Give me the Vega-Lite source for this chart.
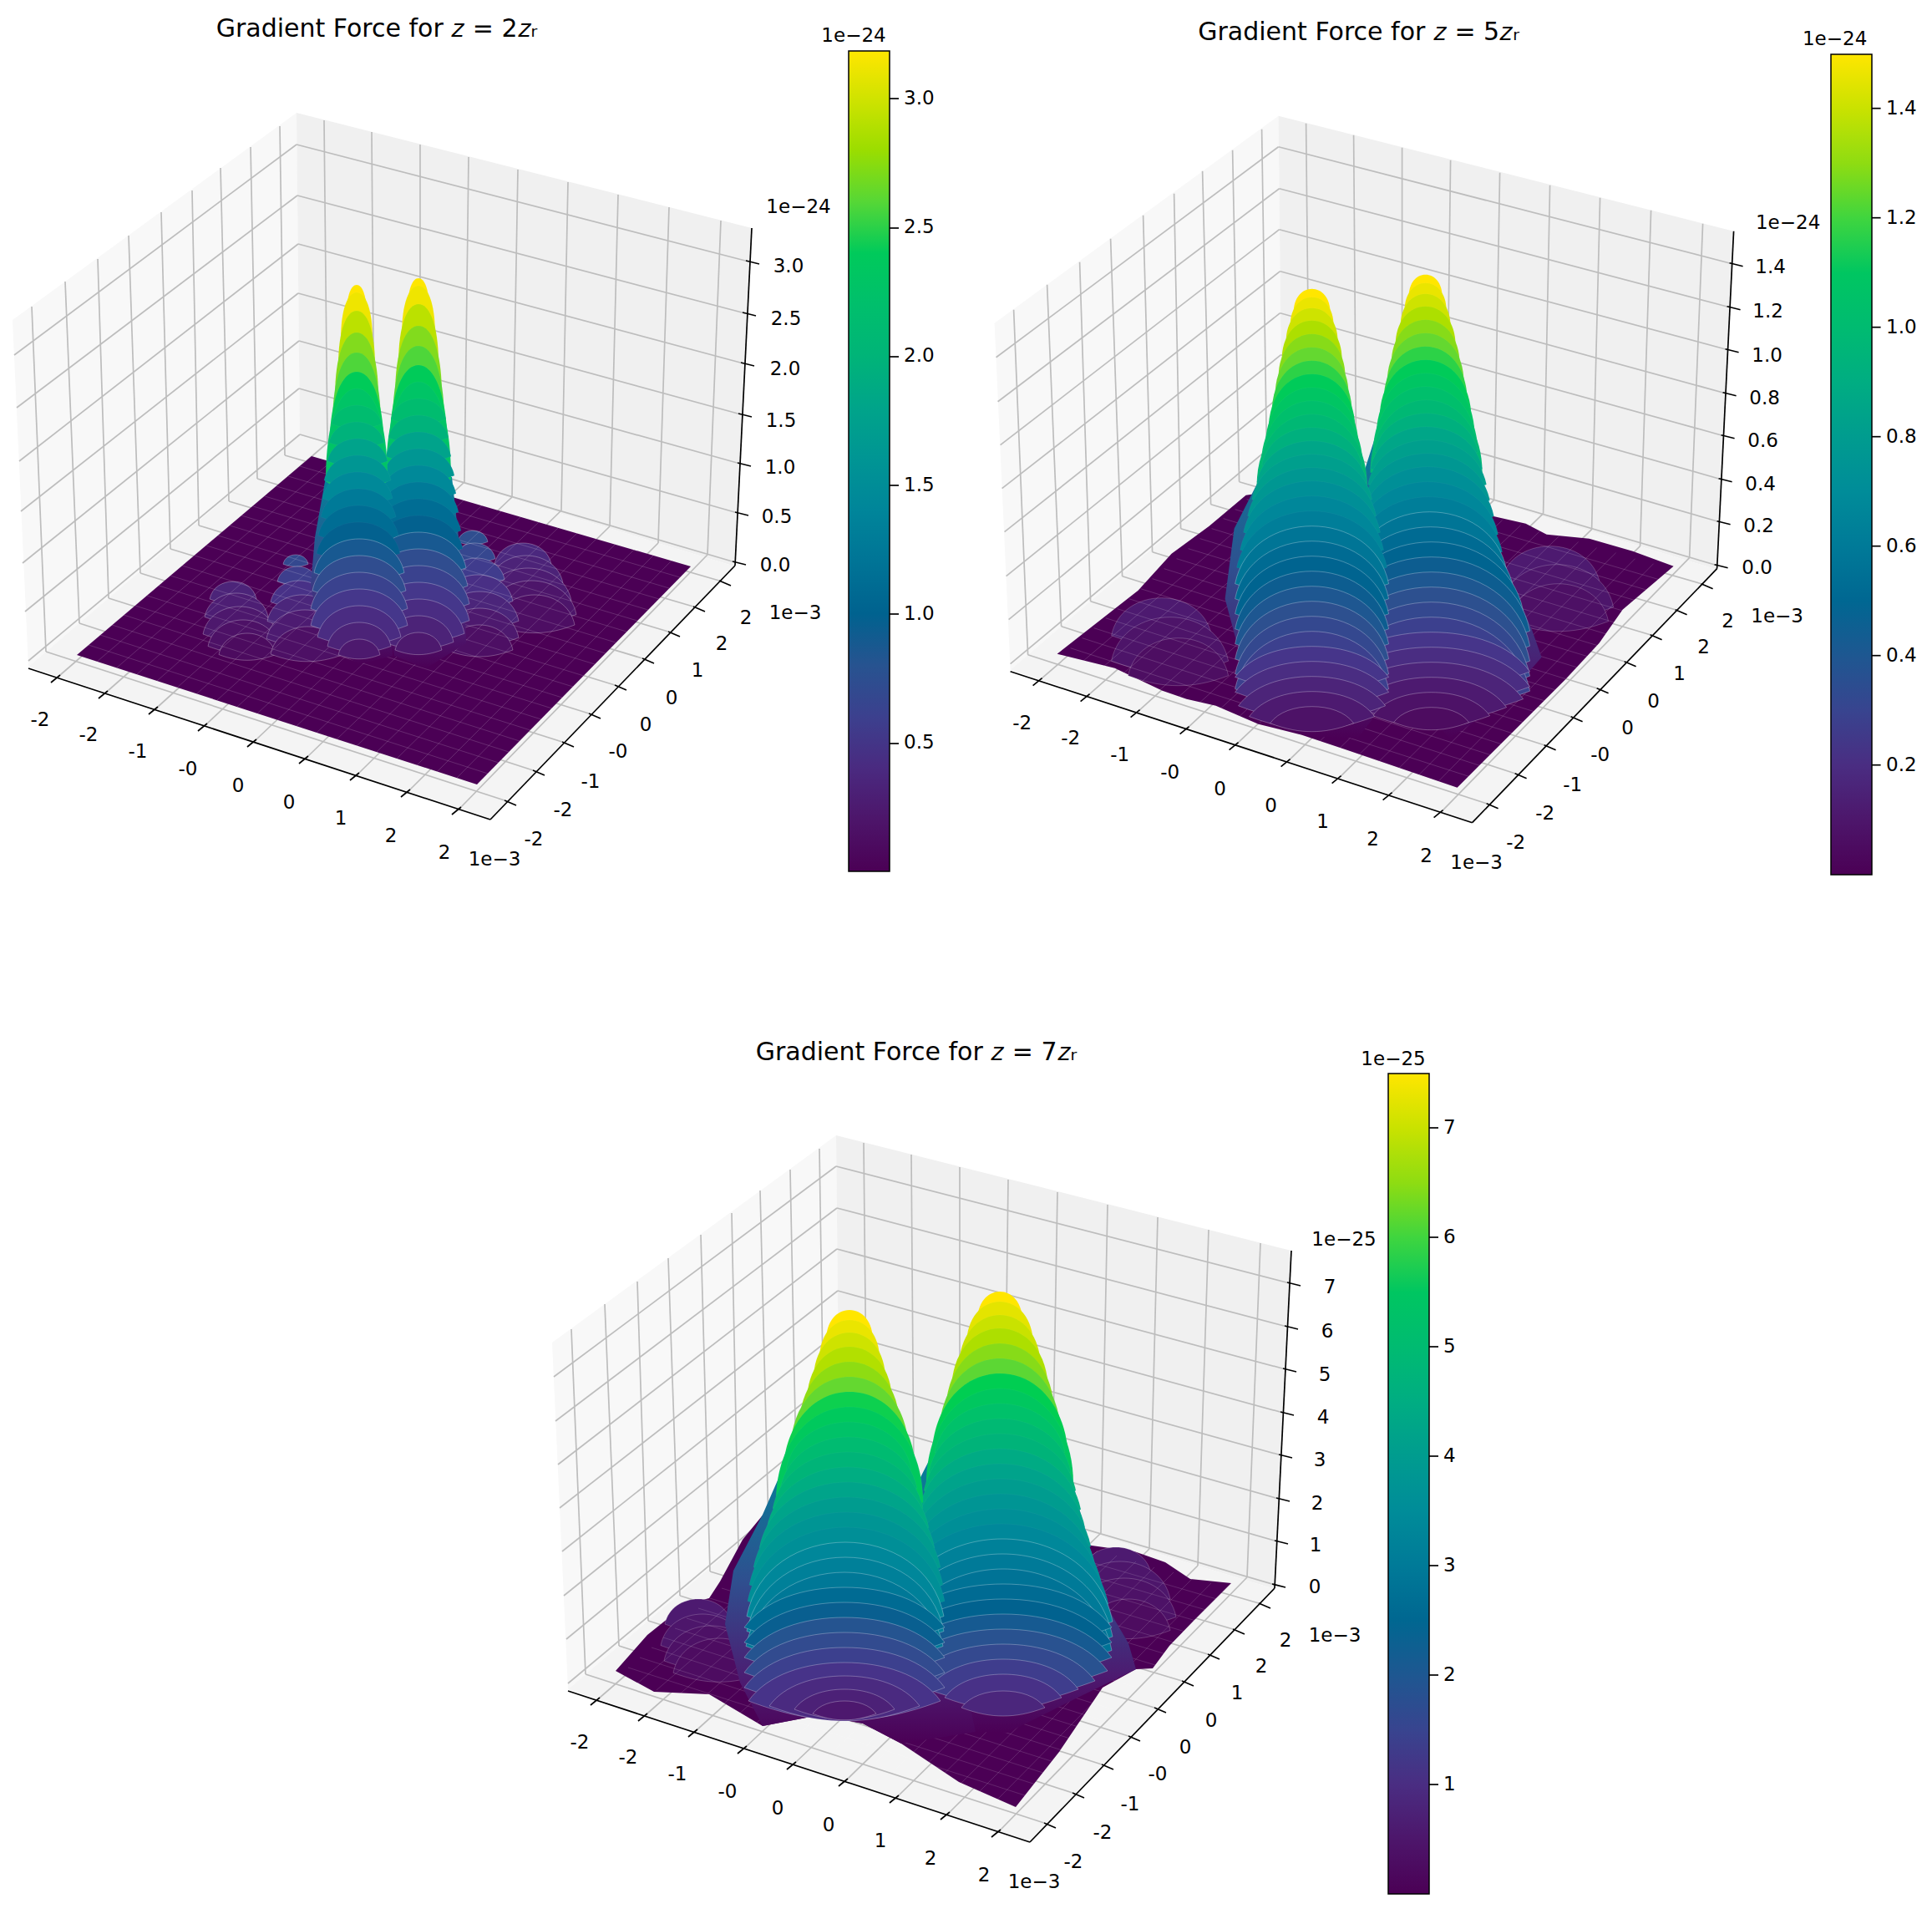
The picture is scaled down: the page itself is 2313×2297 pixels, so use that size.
{"$schema":"https://vega.github.io/schema/vega-lite/v6.json","background":"white","padding":0,"spacing":0,"bounds":"full","resolve":{"scale":{"color":"independent"},"legend":{"color":"independent"}},"config":{"view":{"stroke":null},"concat":{"spacing":0},"text":{"font":"DejaVu Sans"}},
"datasets":{
"paneL":[{"i":1,"x":15,"y":383},{"i":2,"x":355,"y":135},{"i":3,"x":359,"y":520},{"i":4,"x":34,"y":798}],
"paneB":[{"i":1,"x":355,"y":135},{"i":2,"x":900,"y":273},{"i":3,"x":880,"y":678},{"i":4,"x":359,"y":520}],
"paneF":[{"i":1,"x":34,"y":798},{"i":2,"x":359,"y":520},{"i":3,"x":880,"y":678},{"i":4,"x":587,"y":981}],
"grid":[{"x":38,"y":367,"x2":55,"y2":780},{"x":78,"y":337,"x2":95,"y2":746},{"x":117,"y":310,"x2":130,"y2":716},{"x":154,"y":282,"x2":168,"y2":686},{"x":193,"y":254,"x2":204,"y2":657},{"x":230,"y":228,"x2":238,"y2":629},{"x":264,"y":201,"x2":274,"y2":600},{"x":300,"y":176,"x2":308,"y2":573},{"x":335,"y":151,"x2":341,"y2":545},
{"x":388,"y":144,"x2":392,"y2":530},{"x":445,"y":158,"x2":448,"y2":546},{"x":503,"y":173,"x2":503,"y2":562},{"x":561,"y":188,"x2":556,"y2":577},{"x":620,"y":203,"x2":613,"y2":595},{"x":680,"y":218,"x2":672,"y2":611},{"x":740,"y":233,"x2":730,"y2":630},{"x":801,"y":248,"x2":788,"y2":650},{"x":863,"y":264,"x2":847,"y2":664},
{"x":72,"y":808,"x2":392,"y2":530},{"x":129,"y":827,"x2":448,"y2":546},{"x":189,"y":846,"x2":503,"y2":562},{"x":248,"y":866,"x2":556,"y2":577},{"x":307,"y":885,"x2":613,"y2":595},{"x":369,"y":905,"x2":672,"y2":611},{"x":430,"y":925,"x2":730,"y2":630},{"x":491,"y":945,"x2":788,"y2":650},{"x":552,"y":966,"x2":847,"y2":664},
{"x":55,"y":780,"x2":604,"y2":958},{"x":95,"y":746,"x2":638,"y2":922},{"x":130,"y":716,"x2":673,"y2":888},{"x":168,"y":686,"x2":705,"y2":854},{"x":204,"y":657,"x2":736,"y2":820},{"x":238,"y":629,"x2":769,"y2":788},{"x":274,"y":600,"x2":800,"y2":756},{"x":308,"y":573,"x2":830,"y2":726},{"x":341,"y":545,"x2":861,"y2":695},
{"x":34,"y":791,"x2":359,"y2":520},{"x":359,"y":520,"x2":880,"y2":673}],
"axes":[{"x":34,"y":800,"x2":587,"y2":981},{"x":587,"y":981,"x2":880,"y2":677},{"x":880,"y":677,"x2":900,"y2":273},
{"x":61,"y":817,"x2":72,"y2":808},{"x":118,"y":836,"x2":129,"y2":827},{"x":178,"y":855,"x2":189,"y2":846},{"x":237,"y":875,"x2":248,"y2":866},{"x":296,"y":894,"x2":307,"y2":885},{"x":358,"y":914,"x2":369,"y2":905},{"x":419,"y":934,"x2":430,"y2":925},{"x":480,"y":954,"x2":491,"y2":945},{"x":541,"y":975,"x2":552,"y2":966},
{"x":604,"y":958,"x2":618,"y2":964},{"x":638,"y":922,"x2":652,"y2":928},{"x":673,"y":888,"x2":687,"y2":894},{"x":705,"y":854,"x2":719,"y2":860},{"x":736,"y":820,"x2":750,"y2":826},{"x":769,"y":788,"x2":783,"y2":794},{"x":800,"y":756,"x2":814,"y2":762},{"x":830,"y":726,"x2":844,"y2":732},{"x":861,"y":695,"x2":875,"y2":701}],
"hgrid1":[{"x":17,"y":425,"x2":355,"y2":173},{"x":355,"y":173,"x2":896,"y2":313},{"x":20,"y":488,"x2":356,"y2":234},{"x":356,"y":234,"x2":892,"y2":375},{"x":23,"y":552,"x2":357,"y2":292},{"x":357,"y":292,"x2":890,"y2":435},{"x":25,"y":612,"x2":357,"y2":351},{"x":357,"y":351,"x2":887,"y2":496},{"x":27,"y":674,"x2":358,"y2":408},{"x":358,"y":408,"x2":886,"y2":555},{"x":30,"y":732,"x2":358,"y2":465},{"x":358,"y":465,"x2":883,"y2":614}],
"hgrid2":[{"x":32,"y":738,"x2":358,"y2":470},{"x":358,"y":470,"x2":883,"y2":621},{"x":29,"y":686,"x2":358,"y2":421},{"x":358,"y":421,"x2":885,"y2":570},{"x":27,"y":633,"x2":357,"y2":371},{"x":357,"y":371,"x2":888,"y2":518},{"x":24,"y":581,"x2":357,"y2":321},{"x":357,"y":321,"x2":890,"y2":467},{"x":22,"y":529,"x2":356,"y2":271},{"x":356,"y":271,"x2":893,"y2":415},{"x":19,"y":477,"x2":356,"y2":222},{"x":356,"y":222,"x2":895,"y2":364},{"x":17,"y":424,"x2":355,"y2":172},{"x":355,"y":172,"x2":898,"y2":312}],
"zt1":[{"x":893,"y":312,"x2":909,"y2":316},{"x":889,"y":374,"x2":905,"y2":378},{"x":887,"y":434,"x2":903,"y2":438},{"x":884,"y":495,"x2":900,"y2":499},{"x":883,"y":554,"x2":899,"y2":558},{"x":880,"y":613,"x2":896,"y2":617},{"x":877,"y":672,"x2":893,"y2":676}],
"zt2":[{"x":895,"y":311,"x2":911,"y2":315},{"x":892,"y":363,"x2":908,"y2":367},{"x":890,"y":414,"x2":906,"y2":418},{"x":887,"y":466,"x2":903,"y2":470},{"x":885,"y":517,"x2":901,"y2":521},{"x":882,"y":569,"x2":898,"y2":573},{"x":880,"y":620,"x2":896,"y2":624},{"x":877,"y":672,"x2":893,"y2":676}],
"cb1":[{"x":1065,"y":118,"x2":1076,"y2":118},{"x":1065,"y":273,"x2":1076,"y2":273},{"x":1065,"y":427,"x2":1076,"y2":427},{"x":1065,"y":581,"x2":1076,"y2":581},{"x":1065,"y":735,"x2":1076,"y2":735},{"x":1065,"y":890,"x2":1076,"y2":890}],
"cb2":[{"x":1065,"y":126,"x2":1076,"y2":126},{"x":1065,"y":257,"x2":1076,"y2":257},{"x":1065,"y":388,"x2":1076,"y2":388},{"x":1065,"y":519,"x2":1076,"y2":519},{"x":1065,"y":650,"x2":1076,"y2":650},{"x":1065,"y":781,"x2":1076,"y2":781},{"x":1065,"y":912,"x2":1076,"y2":912}],
"xyl":[{"t":"-2","x":48,"y":862},{"t":"-2","x":106,"y":880},{"t":"-1","x":165,"y":900},{"t":"-0","x":225,"y":921},{"t":"0","x":285,"y":941},{"t":"0","x":346,"y":961},{"t":"1","x":408,"y":980},{"t":"2","x":468,"y":1001},{"t":"2","x":532,"y":1021},{"t":"1e−3","x":592,"y":1029},
{"t":"-2","x":639,"y":1005},{"t":"-2","x":674,"y":970},{"t":"-1","x":707,"y":936},{"t":"-0","x":740,"y":900},{"t":"0","x":773,"y":868},{"t":"0","x":804,"y":836},{"t":"1","x":835,"y":803},{"t":"2","x":864,"y":771},{"t":"2","x":893,"y":740},{"t":"1e−3","x":952,"y":734}],
"l1":[{"t":"3.0","x":944,"y":319},{"t":"2.5","x":941,"y":382},{"t":"2.0","x":940,"y":442},{"t":"1.5","x":935,"y":504},{"t":"1.0","x":934,"y":560},{"t":"0.5","x":930,"y":619},{"t":"0.0","x":928,"y":677},{"t":"1e−24","x":956,"y":248},{"t":"1e−24","x":1022,"y":43}],
"l2":[{"t":"1.4","x":944,"y":316},{"t":"1.2","x":941,"y":369},{"t":"1.0","x":940,"y":422},{"t":"0.8","x":937,"y":473},{"t":"0.6","x":935,"y":524},{"t":"0.4","x":932,"y":576},{"t":"0.2","x":930,"y":626},{"t":"0.0","x":928,"y":676},{"t":"1e−24","x":965,"y":263},{"t":"1e−24","x":1021,"y":43}],
"l3":[{"t":"7","x":946,"y":317},{"t":"6","x":943,"y":370},{"t":"5","x":940,"y":422},{"t":"4","x":938,"y":473},{"t":"3","x":934,"y":524},{"t":"2","x":931,"y":576},{"t":"1","x":929,"y":626},{"t":"0","x":928,"y":676},{"t":"1e−25","x":963,"y":260},{"t":"1e−25","x":1022,"y":44}],
"t1":[{"t":"Gradient Force for 𝑧 = 2𝑧ᵣ","x":451,"y":35}],
"t2":[{"t":"Gradient Force for 𝑧 = 5𝑧ᵣ","x":451,"y":35}],
"t3":[{"t":"Gradient Force for 𝑧 = 7𝑧ᵣ","x":451,"y":36}],
"mesh":[{"x":106,"y":772,"x2":584,"y2":926},{"x":120,"y":760,"x2":597,"y2":913},{"x":134,"y":748,"x2":609,"y2":900},{"x":148,"y":736,"x2":622,"y2":887},{"x":162,"y":725,"x2":635,"y2":874},{"x":176,"y":713,"x2":648,"y2":861},{"x":190,"y":701,"x2":661,"y2":848},{"x":204,"y":689,"x2":673,"y2":835},{"x":218,"y":677,"x2":686,"y2":822},{"x":233,"y":665,"x2":699,"y2":809},{"x":247,"y":653,"x2":712,"y2":795},{"x":261,"y":641,"x2":725,"y2":782},{"x":275,"y":629,"x2":737,"y2":769},{"x":289,"y":617,"x2":750,"y2":756},{"x":303,"y":606,"x2":763,"y2":743},{"x":317,"y":594,"x2":776,"y2":730},{"x":331,"y":582,"x2":789,"y2":717},{"x":345,"y":570,"x2":801,"y2":704},{"x":359,"y":558,"x2":814,"y2":691},
{"x":116,"y":792,"x2":396,"y2":553},{"x":140,"y":799,"x2":418,"y2":559},{"x":164,"y":807,"x2":441,"y2":566},{"x":188,"y":815,"x2":464,"y2":572},{"x":212,"y":823,"x2":487,"y2":579},{"x":236,"y":830,"x2":509,"y2":586},{"x":260,"y":838,"x2":532,"y2":592},{"x":284,"y":846,"x2":555,"y2":599},{"x":308,"y":854,"x2":577,"y2":605},{"x":332,"y":862,"x2":600,"y2":612},{"x":355,"y":869,"x2":623,"y2":619},{"x":379,"y":877,"x2":645,"y2":625},{"x":403,"y":885,"x2":668,"y2":632},{"x":427,"y":893,"x2":691,"y2":638},{"x":451,"y":900,"x2":714,"y2":645},{"x":475,"y":908,"x2":736,"y2":652},{"x":499,"y":916,"x2":759,"y2":658},{"x":523,"y":924,"x2":782,"y2":665},{"x":547,"y":931,"x2":804,"y2":671}],
"base1":[{"i":1,"x":92,"y":784},{"i":2,"x":571,"y":939},{"i":3,"x":827,"y":678},{"i":4,"x":373,"y":546}],
"base2":[{"i":1,"x":90,"y":779},{"i":2,"x":159,"y":796},{"i":3,"x":216,"y":823},{"i":4,"x":245,"y":833},{"i":5,"x":280,"y":841},{"i":6,"x":331,"y":863},{"i":7,"x":383,"y":876},{"i":8,"x":434,"y":893},{"i":9,"x":569,"y":939},{"i":10,"x":635,"y":873},{"i":11,"x":699,"y":809},{"i":12,"x":739,"y":766},{"i":13,"x":767,"y":726},{"i":14,"x":828,"y":674},{"i":15,"x":779,"y":656},{"i":16,"x":727,"y":641},{"i":17,"x":676,"y":636},{"i":18,"x":651,"y":623},{"i":19,"x":607,"y":613},{"i":20,"x":455,"y":569},{"i":21,"x":316,"y":589},{"i":22,"x":272,"y":626},{"i":23,"x":227,"y":659},{"i":24,"x":187,"y":703}],
"base3":[{"i":1,"x":91,"y":776},{"i":2,"x":137,"y":801},{"i":3,"x":203,"y":804},{"i":4,"x":267,"y":842},{"i":5,"x":335,"y":829},{"i":6,"x":387,"y":839},{"i":7,"x":433,"y":863},{"i":8,"x":502,"y":909},{"i":9,"x":570,"y":939},{"i":10,"x":622,"y":873},{"i":11,"x":674,"y":796},{"i":12,"x":714,"y":774},{"i":13,"x":734,"y":773},{"i":14,"x":754,"y":746},{"i":15,"x":783,"y":716},{"i":16,"x":828,"y":671},{"i":17,"x":779,"y":666},{"i":18,"x":749,"y":646},{"i":19,"x":712,"y":633},{"i":20,"x":661,"y":626},{"i":21,"x":449,"y":556},{"i":22,"x":270,"y":586},{"i":23,"x":243,"y":619},{"i":24,"x":216,"y":669},{"i":25,"x":203,"y":689},{"i":26,"x":176,"y":696},{"i":27,"x":154,"y":713},{"i":28,"x":129,"y":733}],
"sa1":[{"i":1,"x":390,"y":571},{"i":2,"x":377,"y":643},{"i":3,"x":372,"y":700},{"i":4,"x":385,"y":770},{"i":5,"x":430,"y":795},{"i":6,"x":470,"y":785},{"i":7,"x":472,"y":700},{"i":8,"x":466,"y":571}],
"sb1":[{"i":1,"x":462,"y":571},{"i":2,"x":462,"y":700},{"i":3,"x":472,"y":785},{"i":4,"x":510,"y":800},{"i":5,"x":558,"y":770},{"i":6,"x":556,"y":703},{"i":7,"x":549,"y":643},{"i":8,"x":541,"y":571}],
"sa2":[{"i":1,"x":343,"y":509},{"i":2,"x":329,"y":576},{"i":3,"x":302,"y":629},{"i":4,"x":291,"y":713},{"i":5,"x":314,"y":799},{"i":6,"x":345,"y":865},{"i":7,"x":395,"y":878},{"i":8,"x":450,"y":880},{"i":9,"x":504,"y":809},{"i":10,"x":480,"y":680},{"i":11,"x":461,"y":576},{"i":12,"x":447,"y":509}],
"sb2":[{"i":1,"x":474,"y":509},{"i":2,"x":588,"y":509},{"i":3,"x":610,"y":629},{"i":4,"x":635,"y":696},{"i":5,"x":658,"y":749},{"i":6,"x":670,"y":783},{"i":7,"x":620,"y":840},{"i":8,"x":560,"y":880},{"i":9,"x":509,"y":823},{"i":10,"x":480,"y":680},{"i":11,"x":455,"y":569}],
"sa3":[{"i":1,"x":302,"y":509},{"i":2,"x":267,"y":589},{"i":3,"x":232,"y":656},{"i":4,"x":222,"y":720},{"i":5,"x":240,"y":790},{"i":6,"x":267,"y":842},{"i":7,"x":335,"y":829},{"i":8,"x":387,"y":839},{"i":9,"x":433,"y":863},{"i":10,"x":522,"y":849},{"i":11,"x":490,"y":700},{"i":12,"x":450,"y":556},{"i":13,"x":440,"y":509}],
"sb3":[{"i":1,"x":474,"y":509},{"i":2,"x":628,"y":509},{"i":3,"x":653,"y":609},{"i":4,"x":663,"y":643},{"i":5,"x":685,"y":709},{"i":6,"x":705,"y":743},{"i":7,"x":714,"y":774},{"i":8,"x":640,"y":810},{"i":9,"x":560,"y":850},{"i":10,"x":522,"y":849},{"i":11,"x":480,"y":700},{"i":12,"x":450,"y":556}],
"low1":[{"x":626,"y":650,"w":34,"v":0.38,"k":"e"},{"x":630,"y":665,"w":44,"v":0.33,"k":"e"},{"x":632,"y":680,"w":52,"v":0.27,"k":"e"},{"x":636,"y":695,"w":54,"v":0.2,"k":"e"},{"x":640,"y":712,"w":48,"v":0.13,"k":"e"},
{"x":566,"y":635,"w":18,"v":0.74,"k":"e"},{"x":568,"y":650,"w":25,"v":0.66,"k":"e"},{"x":570,"y":668,"w":34,"v":0.56,"k":"e"},{"x":572,"y":688,"w":42,"v":0.45,"k":"e"},{"x":574,"y":708,"w":47,"v":0.35,"k":"e"},{"x":574,"y":728,"w":47,"v":0.24,"k":"e"},{"x":574,"y":748,"w":40,"v":0.14,"k":"e"},
{"x":279,"y":696,"w":28,"v":0.34,"k":"e"},{"x":283,"y":710,"w":38,"v":0.29,"k":"e"},{"x":287,"y":726,"w":44,"v":0.23,"k":"e"},{"x":291,"y":742,"w":42,"v":0.16,"k":"e"},{"x":296,"y":758,"w":34,"v":0.1,"k":"e"},
{"x":354,"y":664,"w":15,"v":0.68,"k":"e"},{"x":356,"y":678,"w":24,"v":0.58,"k":"e"},{"x":358,"y":695,"w":34,"v":0.47,"k":"e"},{"x":362,"y":712,"w":42,"v":0.36,"k":"e"},{"x":365,"y":730,"w":46,"v":0.26,"k":"e"},{"x":368,"y":750,"w":44,"v":0.15,"k":"e"}],
"peak1":[{"x":501,"y":333,"w":13,"v":3.18,"k":"n"},{"x":501,"y":342,"w":20,"v":3.12,"k":"n"},{"x":501,"y":364,"w":24,"v":2.92,"k":"n"},{"x":501,"y":390,"w":28,"v":2.72,"k":"n"},{"x":501,"y":414,"w":31,"v":2.58,"k":"n"},{"x":501,"y":437,"w":35,"v":2.42,"k":"n"},{"x":501,"y":457,"w":39,"v":2.28,"k":"n"},{"x":501,"y":477,"w":33,"v":2.15,"k":"e"},{"x":501,"y":497,"w":36,"v":1.97,"k":"e"},{"x":501,"y":517,"w":39,"v":1.78,"k":"e"},{"x":501,"y":537,"w":43,"v":1.62,"k":"e"},{"x":501,"y":557,"w":45,"v":1.45,"k":"e"},{"x":501,"y":577,"w":48,"v":1.27,"k":"e"},{"x":501,"y":597,"w":51,"v":1.12,"k":"e"},{"x":501,"y":617,"w":53,"v":0.98,"k":"e"},{"x":501,"y":637,"w":57,"v":0.88,"k":"e"},{"x":501,"y":657,"w":59,"v":0.73,"k":"e"},{"x":501,"y":677,"w":61,"v":0.62,"k":"e"},{"x":501,"y":697,"w":61,"v":0.52,"k":"e"},{"x":501,"y":717,"w":55,"v":0.42,"k":"e"},{"x":501,"y":737,"w":42,"v":0.33,"k":"e"},{"x":501,"y":757,"w":28,"v":0.24,"k":"e"},
{"x":427,"y":341,"w":12,"v":3.18,"k":"n"},{"x":427,"y":350,"w":19,"v":3.12,"k":"n"},{"x":427,"y":372,"w":22,"v":2.92,"k":"n"},{"x":427,"y":398,"w":26,"v":2.72,"k":"n"},{"x":427,"y":422,"w":29,"v":2.58,"k":"n"},{"x":427,"y":445,"w":33,"v":2.42,"k":"n"},{"x":427,"y":465,"w":37,"v":2.28,"k":"n"},{"x":427,"y":485,"w":30,"v":2.15,"k":"e"},{"x":427,"y":505,"w":33,"v":1.97,"k":"e"},{"x":428,"y":525,"w":36,"v":1.78,"k":"e"},{"x":428,"y":545,"w":40,"v":1.62,"k":"e"},{"x":428,"y":565,"w":42,"v":1.45,"k":"e"},{"x":429,"y":585,"w":45,"v":1.27,"k":"e"},{"x":429,"y":605,"w":48,"v":1.12,"k":"e"},{"x":429,"y":625,"w":50,"v":0.98,"k":"e"},{"x":430,"y":645,"w":54,"v":0.88,"k":"e"},{"x":430,"y":665,"w":56,"v":0.73,"k":"e"},{"x":430,"y":685,"w":58,"v":0.62,"k":"e"},{"x":430,"y":705,"w":58,"v":0.52,"k":"e"},{"x":430,"y":725,"w":50,"v":0.42,"k":"e"},{"x":430,"y":745,"w":38,"v":0.33,"k":"e"},{"x":430,"y":765,"w":25,"v":0.24,"k":"e"}],
"low2":[{"x":215,"y":712,"w":60,"v":0.12,"k":"e"},{"x":225,"y":735,"w":70,"v":0.09,"k":"e"},{"x":235,"y":760,"w":60,"v":0.06,"k":"e"},{"x":680,"y":650,"w":60,"v":0.12,"k":"e"},{"x":688,"y":672,"w":68,"v":0.1,"k":"e"},{"x":690,"y":695,"w":60,"v":0.07,"k":"e"}],
"peak2":[{"x":531,"y":325,"w":20,"v":1.5,"k":"t"},{"x":531,"y":335,"w":25,"v":1.46,"k":"t"},{"x":531,"y":348,"w":30,"v":1.41,"k":"t"},{"x":531,"y":363,"w":36,"v":1.35,"k":"t"},{"x":531,"y":379,"w":41,"v":1.29,"k":"t"},{"x":531,"y":395,"w":46,"v":1.24,"k":"t"},{"x":531,"y":411,"w":50,"v":1.19,"k":"t"},{"x":531,"y":427,"w":55,"v":1.14,"k":"t"},{"x":531,"y":443,"w":59,"v":1.09,"k":"t"},{"x":531,"y":459,"w":63,"v":1.04,"k":"t"},{"x":532,"y":475,"w":67,"v":0.98,"k":"t"},{"x":532,"y":491,"w":62,"v":0.92,"k":"e"},{"x":532,"y":507,"w":67,"v":0.86,"k":"e"},{"x":533,"y":523,"w":71,"v":0.82,"k":"e"},{"x":533,"y":539,"w":75,"v":0.77,"k":"e"},{"x":534,"y":555,"w":79,"v":0.72,"k":"e"},{"x":534,"y":573,"w":84,"v":0.67,"k":"e"},{"x":535,"y":591,"w":88,"v":0.62,"k":"e"},{"x":536,"y":609,"w":92,"v":0.57,"k":"e"},{"x":537,"y":627,"w":100,"v":0.52,"k":"e"},{"x":538,"y":645,"w":110,"v":0.48,"k":"e"},{"x":538,"y":663,"w":118,"v":0.44,"k":"e"},{"x":538,"y":681,"w":118,"v":0.4,"k":"e"},{"x":538,"y":699,"w":118,"v":0.36,"k":"e"},{"x":538,"y":717,"w":118,"v":0.32,"k":"e"},{"x":538,"y":735,"w":118,"v":0.28,"k":"e"},{"x":538,"y":753,"w":118,"v":0.24,"k":"f"},{"x":538,"y":771,"w":118,"v":0.2,"k":"f"},{"x":538,"y":789,"w":110,"v":0.16,"k":"f"},{"x":538,"y":807,"w":90,"v":0.12,"k":"f"},{"x":538,"y":825,"w":70,"v":0.08,"k":"f"},{"x":538,"y":843,"w":45,"v":0.05,"k":"f"},
{"x":395,"y":342,"w":22,"v":1.5,"k":"t"},{"x":395,"y":352,"w":26,"v":1.46,"k":"t"},{"x":395,"y":365,"w":31,"v":1.41,"k":"t"},{"x":395,"y":380,"w":36,"v":1.35,"k":"t"},{"x":395,"y":396,"w":40,"v":1.29,"k":"t"},{"x":395,"y":412,"w":44,"v":1.24,"k":"t"},{"x":395,"y":428,"w":48,"v":1.19,"k":"t"},{"x":395,"y":444,"w":52,"v":1.14,"k":"t"},{"x":395,"y":460,"w":56,"v":1.09,"k":"t"},{"x":395,"y":476,"w":61,"v":1.04,"k":"t"},{"x":395,"y":492,"w":66,"v":0.98,"k":"t"},{"x":395,"y":508,"w":60,"v":0.92,"k":"e"},{"x":395,"y":524,"w":66,"v":0.86,"k":"e"},{"x":395,"y":540,"w":72,"v":0.82,"k":"e"},{"x":395,"y":556,"w":77,"v":0.77,"k":"e"},{"x":395,"y":572,"w":82,"v":0.72,"k":"e"},{"x":395,"y":590,"w":86,"v":0.67,"k":"e"},{"x":395,"y":608,"w":90,"v":0.62,"k":"e"},{"x":395,"y":626,"w":92,"v":0.57,"k":"e"},{"x":395,"y":644,"w":92,"v":0.52,"k":"e"},{"x":395,"y":662,"w":92,"v":0.48,"k":"e"},{"x":395,"y":680,"w":92,"v":0.44,"k":"e"},{"x":395,"y":698,"w":92,"v":0.4,"k":"e"},{"x":395,"y":716,"w":92,"v":0.36,"k":"e"},{"x":395,"y":734,"w":92,"v":0.32,"k":"e"},{"x":395,"y":752,"w":92,"v":0.28,"k":"e"},{"x":395,"y":770,"w":92,"v":0.24,"k":"f"},{"x":395,"y":788,"w":92,"v":0.2,"k":"f"},{"x":395,"y":806,"w":88,"v":0.16,"k":"f"},{"x":395,"y":824,"w":75,"v":0.12,"k":"f"},{"x":395,"y":842,"w":50,"v":0.08,"k":"f"}],
"low3":[{"x":190,"y":690,"w":40,"v":0.6,"k":"e"},{"x":195,"y":708,"w":50,"v":0.5,"k":"e"},{"x":205,"y":722,"w":56,"v":0.38,"k":"e"},{"x":215,"y":737,"w":55,"v":0.26,"k":"e"},{"x":690,"y":628,"w":42,"v":0.6,"k":"e"},{"x":695,"y":645,"w":60,"v":0.5,"k":"e"},{"x":700,"y":665,"w":62,"v":0.4,"k":"e"},{"x":705,"y":690,"w":50,"v":0.25,"k":"e"}],
"peak3":[{"x":551,"y":322,"w":27,"v":7.5,"k":"t"},{"x":551,"y":334,"w":40,"v":7.25,"k":"t"},{"x":551,"y":350,"w":49,"v":7.0,"k":"t"},{"x":551,"y":366,"w":58,"v":6.75,"k":"t"},{"x":551,"y":384,"w":65,"v":6.45,"k":"t"},{"x":551,"y":402,"w":73,"v":6.15,"k":"t"},{"x":551,"y":420,"w":82,"v":5.85,"k":"t"},{"x":551,"y":438,"w":88,"v":5.55,"k":"t"},{"x":551,"y":456,"w":78,"v":5.25,"k":"e"},{"x":551,"y":474,"w":85,"v":4.95,"k":"e"},{"x":551,"y":492,"w":91,"v":4.7,"k":"e"},{"x":551,"y":510,"w":97,"v":4.45,"k":"e"},{"x":551,"y":528,"w":102,"v":4.2,"k":"e"},{"x":552,"y":546,"w":108,"v":4.0,"k":"e"},{"x":552,"y":564,"w":113,"v":3.8,"k":"e"},{"x":553,"y":582,"w":120,"v":3.6,"k":"e"},{"x":553,"y":600,"w":128,"v":3.4,"k":"e"},{"x":554,"y":618,"w":132,"v":3.2,"k":"e"},{"x":554,"y":636,"w":132,"v":3.0,"k":"e"},{"x":555,"y":654,"w":130,"v":2.8,"k":"e"},{"x":555,"y":672,"w":130,"v":2.6,"k":"f"},{"x":555,"y":690,"w":130,"v":2.35,"k":"f"},{"x":555,"y":708,"w":130,"v":2.1,"k":"f"},{"x":555,"y":726,"w":125,"v":1.85,"k":"f"},{"x":555,"y":744,"w":110,"v":1.6,"k":"f"},{"x":555,"y":762,"w":90,"v":1.35,"k":"f"},{"x":555,"y":780,"w":70,"v":1.1,"k":"f"},{"x":555,"y":800,"w":50,"v":0.85,"k":"f"},
{"x":371,"y":344,"w":28,"v":7.5,"k":"t"},{"x":371,"y":356,"w":36,"v":7.3,"k":"t"},{"x":371,"y":371,"w":43,"v":7.05,"k":"t"},{"x":371,"y":388,"w":51,"v":6.8,"k":"t"},{"x":371,"y":406,"w":60,"v":6.5,"k":"t"},{"x":371,"y":424,"w":71,"v":6.2,"k":"t"},{"x":371,"y":442,"w":80,"v":5.9,"k":"t"},{"x":371,"y":460,"w":88,"v":5.6,"k":"t"},{"x":370,"y":478,"w":75,"v":5.3,"k":"e"},{"x":370,"y":496,"w":82,"v":5.0,"k":"e"},{"x":369,"y":514,"w":90,"v":4.75,"k":"e"},{"x":369,"y":532,"w":97,"v":4.5,"k":"e"},{"x":368,"y":550,"w":105,"v":4.25,"k":"e"},{"x":368,"y":568,"w":112,"v":4.0,"k":"e"},{"x":367,"y":586,"w":116,"v":3.8,"k":"e"},{"x":367,"y":604,"w":118,"v":3.6,"k":"e"},{"x":366,"y":622,"w":118,"v":3.35,"k":"e"},{"x":366,"y":640,"w":118,"v":3.15,"k":"e"},{"x":365,"y":658,"w":118,"v":2.95,"k":"e"},{"x":365,"y":676,"w":120,"v":2.6,"k":"f"},{"x":365,"y":694,"w":120,"v":2.25,"k":"f"},{"x":365,"y":712,"w":120,"v":1.9,"k":"f"},{"x":365,"y":730,"w":120,"v":1.65,"k":"f"},{"x":365,"y":748,"w":120,"v":1.4,"k":"f"},{"x":365,"y":766,"w":115,"v":1.15,"k":"f"},{"x":365,"y":782,"w":90,"v":0.95,"k":"f"},{"x":365,"y":798,"w":60,"v":0.75,"k":"f"},{"x":365,"y":812,"w":38,"v":0.55,"k":"f"}]
},
"vconcat":[
{"hconcat":[
{"width":1156,"height":1224,
"encoding":{"x":{"field":"x","type":"quantitative","axis":null,"scale":{"domain":[0,1156]}},"y":{"field":"y","type":"quantitative","axis":null,"scale":{"domain":[1224,0]}}},
"layer":[
{"data":{"name":"paneL"},"mark":{"type":"line","fill":"#f8f8f8","strokeWidth":0},"encoding":{"order":{"field":"i"}}},
{"data":{"name":"paneB"},"mark":{"type":"line","fill":"#f0f0f0","strokeWidth":0},"encoding":{"order":{"field":"i"}}},
{"data":{"name":"paneF"},"mark":{"type":"line","fill":"#f4f4f4","strokeWidth":0},"encoding":{"order":{"field":"i"}}},
{"data":{"name":"grid"},"mark":{"type":"rule","color":"#bdbdbd","strokeWidth":1.7},"encoding":{"x2":{"field":"x2"},"y2":{"field":"y2"}}},
{"data":{"name":"hgrid1"},"mark":{"type":"rule","color":"#bdbdbd","strokeWidth":1.7},"encoding":{"x2":{"field":"x2"},"y2":{"field":"y2"}}},
{"data":{"name":"axes"},"mark":{"type":"rule","color":"#000","strokeWidth":1.7},"encoding":{"x2":{"field":"x2"},"y2":{"field":"y2"}}},
{"data":{"name":"zt1"},"mark":{"type":"rule","color":"#000","strokeWidth":1.7},"encoding":{"x2":{"field":"x2"},"y2":{"field":"y2"}}},
{"data":{"name":"cb1"},"mark":{"type":"rule","color":"#000","strokeWidth":1.7},"encoding":{"x2":{"field":"x2"},"y2":{"field":"y2"}}},
{"data":{"name":"xyl"},"mark":{"type":"text","fontSize":23,"font":"DejaVu Sans","color":"#000"},"encoding":{"text":{"field":"t"}}},
{"data":{"name":"l1"},"mark":{"type":"text","fontSize":23,"font":"DejaVu Sans","color":"#000"},"encoding":{"text":{"field":"t"}}},
{"data":{"name":"t1"},"mark":{"type":"text","fontSize":30,"font":"DejaVu Sans","color":"#000"},"encoding":{"text":{"field":"t"}}},
{"data":{"name":"base1"},"mark":{"type":"line","fill":"#4b0055","strokeWidth":0},"encoding":{"order":{"field":"i"}}},
{"data":{"name":"low1"},"mark":{"type":"point","filled":true,"opacity":1,"stroke":"#fff","strokeWidth":1},"encoding":{"strokeOpacity":{"value":0.28},"size":{"field":"w","type":"quantitative","legend":null,"scale":{"type":"pow","exponent":2,"domain":[0,200],"range":[0,160000]}},"shape":{"field":"k","type":"nominal","legend":null,"scale":{"domain":["n","t","e","f"],"range":["M-1,3 C-1,1 -0.55,0 0,0 C0.55,0 1,1 1,3 C0.6,3.3 0.3,3.35 0,3.35 C-0.3,3.35 -0.6,3.3 -1,3","M-1,1.3 C-1,0.5 -0.55,0 0,0 C0.55,0 1,0.5 1,1.3","M-1,0.75 C-0.9,0.25 -0.45,0 0,0 C0.45,0 0.9,0.25 1,0.75 C0.6,0.9 0.3,0.95 0,0.95 C-0.3,0.95 -0.6,0.9 -1,0.75","M-1,0.4 C-0.8,0.12 -0.4,0 0,0 C0.4,0 0.8,0.12 1,0.4 C0.6,0.55 0.3,0.6 0,0.6 C-0.3,0.6 -0.6,0.55 -1,0.4"]}},"color":{"field":"v","type":"quantitative","scale":{"domain":[0,0.255,0.5,0.75,1,1.4,1.69,2,2.5,2.55,2.8,3.185],"range":["#4b0055","#4d1a70","#47348a","#2f4f8f","#00628f","#00859a","#009b8f","#00b478","#00cf50","#3fd53f","#9bdd00","#ffe600"]},"legend":{"orient":"none","legendX":1016,"legendY":61,"direction":"vertical","gradientLength":982,"gradientThickness":49,"title":null,"values":[0.5,1,1.5,2,2.5,3],"format":".1f","labelFontSize":23,"labelFont":"DejaVu Sans","labelColor":"#000","labelOffset":17,"gradientStrokeColor":"#000","gradientStrokeWidth":1.5,"padding":0,"labelOverlap":false}}}},
{"data":{"name":"mesh"},"mark":{"type":"rule","color":"#fff","strokeWidth":1,"opacity":0.16},"encoding":{"x2":{"field":"x2"},"y2":{"field":"y2"}}},
{"data":{"name":"sb1"},"mark":{"type":"line","strokeWidth":0,"fill":{"gradient":"linear","x1":0,"y1":0,"x2":0,"y2":1,"stops":[{"offset":0,"color":"#00859a"},{"offset":0.45,"color":"#2f4f8f"},{"offset":0.8,"color":"#4d1a70"},{"offset":1,"color":"#4b0055"}]}},"encoding":{"order":{"field":"i"}}},
{"data":{"name":"sa1"},"mark":{"type":"line","strokeWidth":0,"fill":{"gradient":"linear","x1":0,"y1":0,"x2":0,"y2":1,"stops":[{"offset":0,"color":"#00859a"},{"offset":0.45,"color":"#2f4f8f"},{"offset":0.8,"color":"#4d1a70"},{"offset":1,"color":"#4b0055"}]}},"encoding":{"order":{"field":"i"}}},
{"data":{"name":"peak1"},"mark":{"type":"point","filled":true,"opacity":1,"stroke":"#fff","strokeWidth":1},"encoding":{"strokeOpacity":{"condition":{"test":"datum.v<0.95","value":0.28},"value":0.03},"size":{"field":"w","type":"quantitative","legend":null,"scale":{"type":"pow","exponent":2,"domain":[0,200],"range":[0,160000]}},"shape":{"field":"k","type":"nominal","legend":null,"scale":{"domain":["n","t","e","f"],"range":["M-1,3 C-1,1 -0.55,0 0,0 C0.55,0 1,1 1,3 C0.6,3.3 0.3,3.35 0,3.35 C-0.3,3.35 -0.6,3.3 -1,3","M-1,1.3 C-1,0.5 -0.55,0 0,0 C0.55,0 1,0.5 1,1.3","M-1,0.75 C-0.9,0.25 -0.45,0 0,0 C0.45,0 0.9,0.25 1,0.75 C0.6,0.9 0.3,0.95 0,0.95 C-0.3,0.95 -0.6,0.9 -1,0.75","M-1,0.4 C-0.8,0.12 -0.4,0 0,0 C0.4,0 0.8,0.12 1,0.4 C0.6,0.55 0.3,0.6 0,0.6 C-0.3,0.6 -0.6,0.55 -1,0.4"]}},"color":{"field":"v","type":"quantitative","scale":{"domain":[0,0.255,0.5,0.75,1,1.4,1.69,2,2.5,2.55,2.8,3.185],"range":["#4b0055","#4d1a70","#47348a","#2f4f8f","#00628f","#00859a","#009b8f","#00b478","#00cf50","#3fd53f","#9bdd00","#ffe600"]},"legend":{"orient":"none","legendX":1016,"legendY":61,"direction":"vertical","gradientLength":982,"gradientThickness":49,"title":null,"values":[0.5,1,1.5,2,2.5,3],"format":".1f","labelFontSize":23,"labelFont":"DejaVu Sans","labelColor":"#000","labelOffset":17,"gradientStrokeColor":"#000","gradientStrokeWidth":1.5,"padding":0,"labelOverlap":false}}}}
]},
{"width":1157,"height":1224,
"encoding":{"x":{"field":"x","type":"quantitative","axis":null,"scale":{"domain":[-19.6,1137.4]}},"y":{"field":"y","type":"quantitative","axis":null,"scale":{"domain":[1220.3,-3.7]}}},
"layer":[
{"data":{"name":"paneL"},"mark":{"type":"line","fill":"#f8f8f8","strokeWidth":0},"encoding":{"order":{"field":"i"}}},
{"data":{"name":"paneB"},"mark":{"type":"line","fill":"#f0f0f0","strokeWidth":0},"encoding":{"order":{"field":"i"}}},
{"data":{"name":"paneF"},"mark":{"type":"line","fill":"#f4f4f4","strokeWidth":0},"encoding":{"order":{"field":"i"}}},
{"data":{"name":"grid"},"mark":{"type":"rule","color":"#bdbdbd","strokeWidth":1.7},"encoding":{"x2":{"field":"x2"},"y2":{"field":"y2"}}},
{"data":{"name":"hgrid2"},"mark":{"type":"rule","color":"#bdbdbd","strokeWidth":1.7},"encoding":{"x2":{"field":"x2"},"y2":{"field":"y2"}}},
{"data":{"name":"axes"},"mark":{"type":"rule","color":"#000","strokeWidth":1.7},"encoding":{"x2":{"field":"x2"},"y2":{"field":"y2"}}},
{"data":{"name":"zt2"},"mark":{"type":"rule","color":"#000","strokeWidth":1.7},"encoding":{"x2":{"field":"x2"},"y2":{"field":"y2"}}},
{"data":{"name":"cb2"},"mark":{"type":"rule","color":"#000","strokeWidth":1.7},"encoding":{"x2":{"field":"x2"},"y2":{"field":"y2"}}},
{"data":{"name":"xyl"},"mark":{"type":"text","fontSize":23,"font":"DejaVu Sans","color":"#000"},"encoding":{"text":{"field":"t"}}},
{"data":{"name":"l2"},"mark":{"type":"text","fontSize":23,"font":"DejaVu Sans","color":"#000"},"encoding":{"text":{"field":"t"}}},
{"data":{"name":"t2"},"mark":{"type":"text","fontSize":30,"font":"DejaVu Sans","color":"#000"},"encoding":{"text":{"field":"t"}}},
{"data":{"name":"base2"},"mark":{"type":"line","fill":"#4b0055","strokeWidth":0},"encoding":{"order":{"field":"i"}}},
{"data":{"name":"low2"},"mark":{"type":"point","filled":true,"opacity":1,"stroke":"#fff","strokeWidth":1},"encoding":{"strokeOpacity":{"value":0.2},"size":{"field":"w","type":"quantitative","legend":null,"scale":{"type":"pow","exponent":2,"domain":[0,200],"range":[0,160000]}},"shape":{"field":"k","type":"nominal","legend":null,"scale":{"domain":["n","t","e","f"],"range":["M-1,3 C-1,1 -0.55,0 0,0 C0.55,0 1,1 1,3 C0.6,3.3 0.3,3.35 0,3.35 C-0.3,3.35 -0.6,3.3 -1,3","M-1,1.3 C-1,0.5 -0.55,0 0,0 C0.55,0 1,0.5 1,1.3","M-1,0.75 C-0.9,0.25 -0.45,0 0,0 C0.45,0 0.9,0.25 1,0.75 C0.6,0.9 0.3,0.95 0,0.95 C-0.3,0.95 -0.6,0.9 -1,0.75","M-1,0.4 C-0.8,0.12 -0.4,0 0,0 C0.4,0 0.8,0.12 1,0.4 C0.6,0.55 0.3,0.6 0,0.6 C-0.3,0.6 -0.6,0.55 -1,0.4"]}},"color":{"field":"v","type":"quantitative","scale":{"domain":[0,0.12,0.236,0.353,0.471,0.66,0.795,0.945,1.178,1.2,1.32,1.5],"range":["#4b0055","#4d1a70","#47348a","#2f4f8f","#00628f","#00859a","#009b8f","#00b478","#00cf50","#3fd53f","#9bdd00","#ffe600"]},"legend":{"orient":"none","legendX":1036,"legendY":65,"direction":"vertical","gradientLength":982,"gradientThickness":49,"title":null,"values":[0.2,0.4,0.6,0.8,1,1.2,1.4],"format":".1f","labelFontSize":23,"labelFont":"DejaVu Sans","labelColor":"#000","labelOffset":17,"gradientStrokeColor":"#000","gradientStrokeWidth":1.5,"padding":0,"labelOverlap":false}}}},
{"data":{"name":"mesh"},"mark":{"type":"rule","color":"#fff","strokeWidth":1,"opacity":0.16},"encoding":{"x2":{"field":"x2"},"y2":{"field":"y2"}}},
{"data":{"name":"sb2"},"mark":{"type":"line","strokeWidth":0,"fill":{"gradient":"linear","x1":0,"y1":0,"x2":0,"y2":1,"stops":[{"offset":0,"color":"#00859a"},{"offset":0.45,"color":"#2f4f8f"},{"offset":0.8,"color":"#4d1a70"},{"offset":1,"color":"#4b0055"}]}},"encoding":{"order":{"field":"i"}}},
{"data":{"name":"sa2"},"mark":{"type":"line","strokeWidth":0,"fill":{"gradient":"linear","x1":0,"y1":0,"x2":0,"y2":1,"stops":[{"offset":0,"color":"#00859a"},{"offset":0.45,"color":"#2f4f8f"},{"offset":0.8,"color":"#4d1a70"},{"offset":1,"color":"#4b0055"}]}},"encoding":{"order":{"field":"i"}}},
{"data":{"name":"peak2"},"mark":{"type":"point","filled":true,"opacity":1,"stroke":"#fff","strokeWidth":1},"encoding":{"strokeOpacity":{"condition":{"test":"datum.v<0.62","value":0.28},"value":0.03},"size":{"field":"w","type":"quantitative","legend":null,"scale":{"type":"pow","exponent":2,"domain":[0,200],"range":[0,160000]}},"shape":{"field":"k","type":"nominal","legend":null,"scale":{"domain":["n","t","e","f"],"range":["M-1,3 C-1,1 -0.55,0 0,0 C0.55,0 1,1 1,3 C0.6,3.3 0.3,3.35 0,3.35 C-0.3,3.35 -0.6,3.3 -1,3","M-1,1.3 C-1,0.5 -0.55,0 0,0 C0.55,0 1,0.5 1,1.3","M-1,0.75 C-0.9,0.25 -0.45,0 0,0 C0.45,0 0.9,0.25 1,0.75 C0.6,0.9 0.3,0.95 0,0.95 C-0.3,0.95 -0.6,0.9 -1,0.75","M-1,0.4 C-0.8,0.12 -0.4,0 0,0 C0.4,0 0.8,0.12 1,0.4 C0.6,0.55 0.3,0.6 0,0.6 C-0.3,0.6 -0.6,0.55 -1,0.4"]}},"color":{"field":"v","type":"quantitative","scale":{"domain":[0,0.12,0.236,0.353,0.471,0.66,0.795,0.945,1.178,1.2,1.32,1.5],"range":["#4b0055","#4d1a70","#47348a","#2f4f8f","#00628f","#00859a","#009b8f","#00b478","#00cf50","#3fd53f","#9bdd00","#ffe600"]},"legend":{"orient":"none","legendX":1036,"legendY":65,"direction":"vertical","gradientLength":982,"gradientThickness":49,"title":null,"values":[0.2,0.4,0.6,0.8,1,1.2,1.4],"format":".1f","labelFontSize":23,"labelFont":"DejaVu Sans","labelColor":"#000","labelOffset":17,"gradientStrokeColor":"#000","gradientStrokeWidth":1.5,"padding":0,"labelOverlap":false}}}}
]}
],"spacing":0,"bounds":"flush","resolve":{"scale":{"color":"independent"},"legend":{"color":"independent"}}},
{"width":2313,"height":1073,
"encoding":{"x":{"field":"x","type":"quantitative","axis":null,"scale":{"domain":[-646,1667]}},"y":{"field":"y","type":"quantitative","axis":null,"scale":{"domain":[1073,0]}}},
"layer":[
{"data":{"name":"paneL"},"mark":{"type":"line","fill":"#f8f8f8","strokeWidth":0},"encoding":{"order":{"field":"i"}}},
{"data":{"name":"paneB"},"mark":{"type":"line","fill":"#f0f0f0","strokeWidth":0},"encoding":{"order":{"field":"i"}}},
{"data":{"name":"paneF"},"mark":{"type":"line","fill":"#f4f4f4","strokeWidth":0},"encoding":{"order":{"field":"i"}}},
{"data":{"name":"grid"},"mark":{"type":"rule","color":"#bdbdbd","strokeWidth":1.7},"encoding":{"x2":{"field":"x2"},"y2":{"field":"y2"}}},
{"data":{"name":"hgrid2"},"mark":{"type":"rule","color":"#bdbdbd","strokeWidth":1.7},"encoding":{"x2":{"field":"x2"},"y2":{"field":"y2"}}},
{"data":{"name":"axes"},"mark":{"type":"rule","color":"#000","strokeWidth":1.7},"encoding":{"x2":{"field":"x2"},"y2":{"field":"y2"}}},
{"data":{"name":"zt2"},"mark":{"type":"rule","color":"#000","strokeWidth":1.7},"encoding":{"x2":{"field":"x2"},"y2":{"field":"y2"}}},
{"data":{"name":"cb2"},"mark":{"type":"rule","color":"#000","strokeWidth":1.7},"encoding":{"x2":{"field":"x2"},"y2":{"field":"y2"}}},
{"data":{"name":"xyl"},"mark":{"type":"text","fontSize":23,"font":"DejaVu Sans","color":"#000"},"encoding":{"text":{"field":"t"}}},
{"data":{"name":"l3"},"mark":{"type":"text","fontSize":23,"font":"DejaVu Sans","color":"#000"},"encoding":{"text":{"field":"t"}}},
{"data":{"name":"t3"},"mark":{"type":"text","fontSize":30,"font":"DejaVu Sans","color":"#000"},"encoding":{"text":{"field":"t"}}},
{"data":{"name":"base3"},"mark":{"type":"line","fill":"#4b0055","strokeWidth":0},"encoding":{"order":{"field":"i"}}},
{"data":{"name":"low3"},"mark":{"type":"point","filled":true,"opacity":1,"stroke":"#fff","strokeWidth":1},"encoding":{"strokeOpacity":{"value":0.2},"size":{"field":"w","type":"quantitative","legend":null,"scale":{"type":"pow","exponent":2,"domain":[0,200],"range":[0,160000]}},"shape":{"field":"k","type":"nominal","legend":null,"scale":{"domain":["n","t","e","f"],"range":["M-1,3 C-1,1 -0.55,0 0,0 C0.55,0 1,1 1,3 C0.6,3.3 0.3,3.35 0,3.35 C-0.3,3.35 -0.6,3.3 -1,3","M-1,1.3 C-1,0.5 -0.55,0 0,0 C0.55,0 1,0.5 1,1.3","M-1,0.75 C-0.9,0.25 -0.45,0 0,0 C0.45,0 0.9,0.25 1,0.75 C0.6,0.9 0.3,0.95 0,0.95 C-0.3,0.95 -0.6,0.9 -1,0.75","M-1,0.4 C-0.8,0.12 -0.4,0 0,0 C0.4,0 0.8,0.12 1,0.4 C0.6,0.55 0.3,0.6 0,0.6 C-0.3,0.6 -0.6,0.55 -1,0.4"]}},"color":{"field":"v","type":"quantitative","scale":{"domain":[0,0.6,1.18,1.76,2.36,3.3,3.98,4.73,5.89,6,6.6,7.5],"range":["#4b0055","#4d1a70","#47348a","#2f4f8f","#00628f","#00859a","#009b8f","#00b478","#00cf50","#3fd53f","#9bdd00","#ffe600"]},"legend":{"orient":"none","legendX":1662,"legendY":61,"direction":"vertical","gradientLength":982,"gradientThickness":49,"title":null,"values":[1,2,3,4,5,6,7],"format":"d","labelFontSize":23,"labelFont":"DejaVu Sans","labelColor":"#000","labelOffset":17,"gradientStrokeColor":"#000","gradientStrokeWidth":1.5,"padding":0,"labelOverlap":false}}}},
{"data":{"name":"mesh"},"mark":{"type":"rule","color":"#fff","strokeWidth":1,"opacity":0.14},"encoding":{"x2":{"field":"x2"},"y2":{"field":"y2"}}},
{"data":{"name":"sb3"},"mark":{"type":"line","strokeWidth":0,"fill":{"gradient":"linear","x1":0,"y1":0,"x2":0,"y2":1,"stops":[{"offset":0,"color":"#00859a"},{"offset":0.45,"color":"#2f4f8f"},{"offset":0.8,"color":"#4d1a70"},{"offset":1,"color":"#4b0055"}]}},"encoding":{"order":{"field":"i"}}},
{"data":{"name":"sa3"},"mark":{"type":"line","strokeWidth":0,"fill":{"gradient":"linear","x1":0,"y1":0,"x2":0,"y2":1,"stops":[{"offset":0,"color":"#00859a"},{"offset":0.45,"color":"#2f4f8f"},{"offset":0.8,"color":"#4d1a70"},{"offset":1,"color":"#4b0055"}]}},"encoding":{"order":{"field":"i"}}},
{"data":{"name":"peak3"},"mark":{"type":"point","filled":true,"opacity":1,"stroke":"#fff","strokeWidth":1},"encoding":{"strokeOpacity":{"condition":{"test":"datum.v<3.4","value":0.28},"value":0.03},"size":{"field":"w","type":"quantitative","legend":null,"scale":{"type":"pow","exponent":2,"domain":[0,200],"range":[0,160000]}},"shape":{"field":"k","type":"nominal","legend":null,"scale":{"domain":["n","t","e","f"],"range":["M-1,3 C-1,1 -0.55,0 0,0 C0.55,0 1,1 1,3 C0.6,3.3 0.3,3.35 0,3.35 C-0.3,3.35 -0.6,3.3 -1,3","M-1,1.3 C-1,0.5 -0.55,0 0,0 C0.55,0 1,0.5 1,1.3","M-1,0.75 C-0.9,0.25 -0.45,0 0,0 C0.45,0 0.9,0.25 1,0.75 C0.6,0.9 0.3,0.95 0,0.95 C-0.3,0.95 -0.6,0.9 -1,0.75","M-1,0.4 C-0.8,0.12 -0.4,0 0,0 C0.4,0 0.8,0.12 1,0.4 C0.6,0.55 0.3,0.6 0,0.6 C-0.3,0.6 -0.6,0.55 -1,0.4"]}},"color":{"field":"v","type":"quantitative","scale":{"domain":[0,0.6,1.18,1.76,2.36,3.3,3.98,4.73,5.89,6,6.6,7.5],"range":["#4b0055","#4d1a70","#47348a","#2f4f8f","#00628f","#00859a","#009b8f","#00b478","#00cf50","#3fd53f","#9bdd00","#ffe600"]},"legend":{"orient":"none","legendX":1662,"legendY":61,"direction":"vertical","gradientLength":982,"gradientThickness":49,"title":null,"values":[1,2,3,4,5,6,7],"format":"d","labelFontSize":23,"labelFont":"DejaVu Sans","labelColor":"#000","labelOffset":17,"gradientStrokeColor":"#000","gradientStrokeWidth":1.5,"padding":0,"labelOverlap":false}}}}
]}
]}
